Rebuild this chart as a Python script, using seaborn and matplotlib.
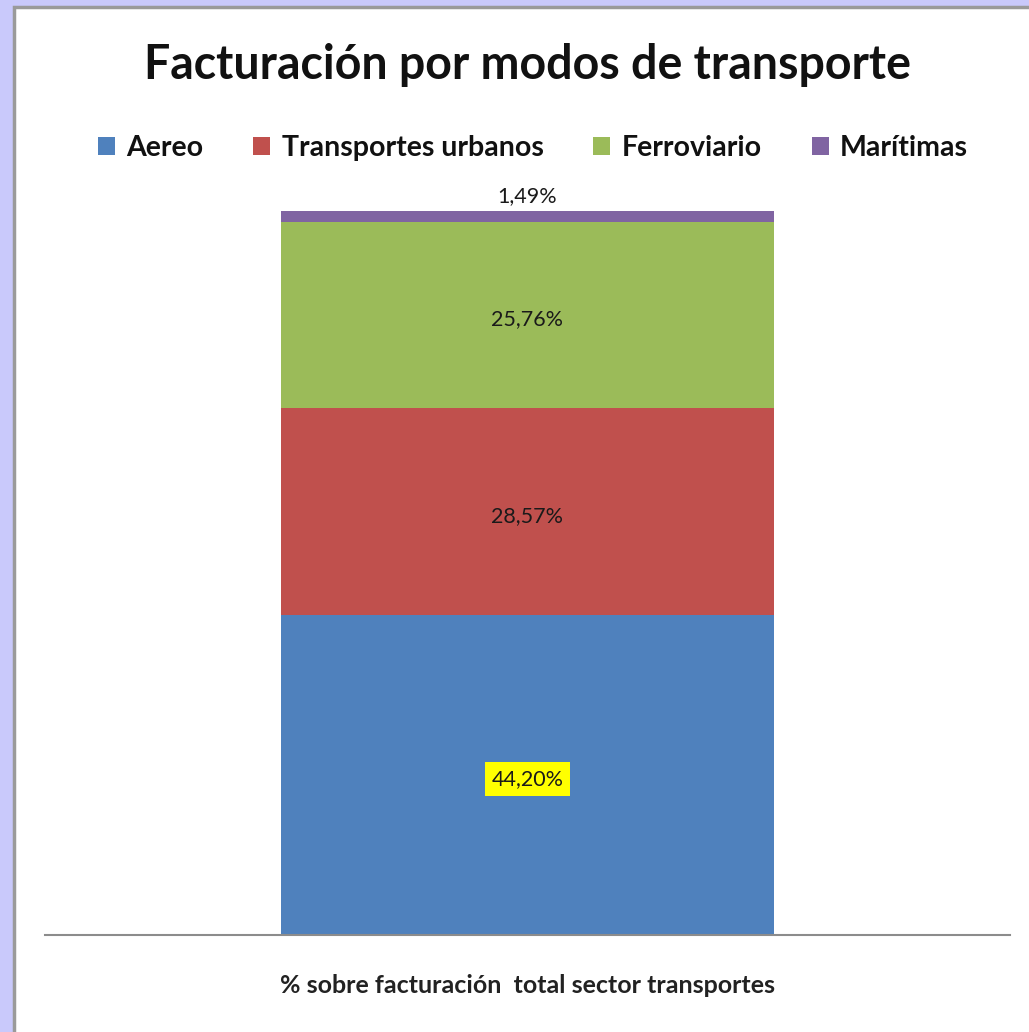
import numpy as np
import pandas as pd
import seaborn as sns
import matplotlib.pyplot as plt
from matplotlib.patches import Patch, Rectangle

modos = ['Aereo', 'Transportes urbanos', 'Ferroviario', 'Marítimas']
porcentajes = [44.20, 28.57, 25.76, 1.49]
etiquetas = ['44,20%', '28,57%', '25,76%', '1,49%']
colores = ['#4F81BD', '#C0504D', '#9BBB59', '#8064A2']
categoria = ['% sobre facturación  total sector transportes']

sns.set_theme(style='white')
plt.rcParams['font.family'] = ['Lato', 'DejaVu Sans']

fig = plt.figure(figsize=(10.29, 10.32), dpi=100)
fig.patch.set_facecolor('#C9C9FB')
# white chart panel with grey frame
fig.patches.append(Rectangle((14 / 1029, -0.05), 1.2, 1 - 7 / 1032 + 0.05,
                             transform=fig.transFigure, facecolor='white',
                             edgecolor='#9a9a9a', lw=2.5, zorder=-5))

ax = fig.add_axes([45 / 1029, 1 - 935 / 1032, 965 / 1029, 724 / 1032])
ax.set_facecolor('none')
ax.set_zorder(2)

# stacked bar: draw cumulative totals from top to bottom
acum = np.cumsum(porcentajes)
for i in range(len(modos) - 1, -1, -1):
    df = pd.DataFrame({'cat': categoria, 'val': [acum[i]]})
    sns.barplot(data=df, x='cat', y='val', color=colores[i], width=0.511,
                saturation=1, ax=ax, edgecolor='none', linewidth=0)

ax.set_xlim(-0.5, 0.5)
ax.set_ylim(0, 100)
ax.set_yticks([])
ax.set_xticks([])
ax.set_ylabel('')
ax.set_xlabel(categoria[0], fontsize=18, fontweight='bold', color='#222222', labelpad=28)
for s in ['top', 'left', 'right']:
    ax.spines[s].set_visible(False)
ax.spines['bottom'].set_color('#8c8c8c')
ax.spines['bottom'].set_linewidth(1.5)

# data labels
bases = acum - np.array(porcentajes)
for i, (b, v, t) in enumerate(zip(bases, porcentajes, etiquetas)):
    if i == 3:
        ax.text(0, acum[i] + 2.1, t, ha='center', va='center', fontsize=15.5, color='#1a1a1a')
    elif i == 0:
        ax.text(0, b + v / 2 - 0.6, t, ha='center', va='center', fontsize=15.5, color='#1a1a1a',
                bbox=dict(facecolor='#FFFF00', edgecolor='none', pad=5))
    else:
        ax.text(0, b + v / 2 - 0.6, t, ha='center', va='center', fontsize=15.5, color='#1a1a1a')

fig.text(527 / 1029, 1 - 65 / 1032, 'Facturación por modos de transporte', ha='center',
         va='center', fontsize=33.5, fontweight='bold', color='#111111')

handles = [Patch(facecolor=c, edgecolor='none') for c in colores]
leg = fig.legend(handles, modos, loc='center', bbox_to_anchor=(533 / 1029, 1 - 148 / 1032),
                 ncol=4, frameon=False, handlelength=0.6, handleheight=0.6,
                 handletextpad=0.4, columnspacing=1.75,
                 prop={'size': 20.5, 'weight': 'bold'})
for t in leg.get_texts():
    t.set_color('#111111')

fig.savefig('out.png', dpi=100, facecolor=fig.get_facecolor())
